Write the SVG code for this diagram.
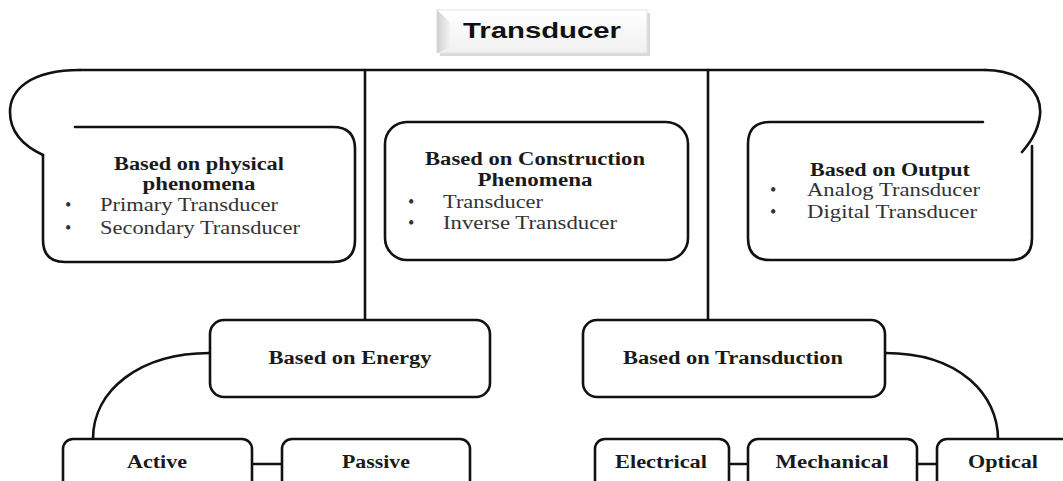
<svg xmlns="http://www.w3.org/2000/svg" width="1063" height="481" viewBox="0 0 1063 481">
<defs>
<linearGradient id="tg" x1="0" y1="0" x2="0" y2="1">
<stop offset="0" stop-color="#ffffff"/>
<stop offset="1" stop-color="#f0f0f0"/>
</linearGradient>
<linearGradient id="bev" x1="0" y1="0" x2="1" y2="0">
<stop offset="0" stop-color="#cfcfcf"/>
<stop offset="1" stop-color="#f4f4f4"/>
</linearGradient>
</defs>
<style>
.ln{fill:none;stroke:#111;stroke-width:2.6;stroke-linecap:round;stroke-linejoin:round}
.bx{fill:#fff;stroke:#111;stroke-width:2.6}
.hd{font-family:"Liberation Serif","Times New Roman",serif;font-weight:bold;font-size:18px;fill:#1a1a1a}
.it{font-family:"Liberation Serif","Times New Roman",serif;font-size:18px;fill:#333}
.ttl{font-family:"Liberation Sans",Arial,sans-serif;font-weight:bold;font-size:22px;fill:#111}
</style>
<rect width="1063" height="481" fill="#fff"/>

<g id="title">
<rect x="440" y="13" width="210" height="43" fill="#d8d8d8"/>
<rect x="437" y="10" width="210" height="43" fill="url(#tg)" stroke="#e2e2e2" stroke-width="1"/>
<polygon points="437,10 450,22 450,48 437,53" fill="url(#bev)"/>
<text class="ttl" x="542" y="38" text-anchor="middle" textLength="158" lengthAdjust="spacingAndGlyphs">Transducer</text>
</g>

<g id="connectors">
<path class="ln" d="M80 70 L985 70"/>
<path class="ln" d="M80 70 C30 70 10 90 10 112 C10 135 28 148 43 155"/>
<path class="ln" d="M985 70 C1025 70 1042 95 1040 115 C1038 133 1028 145 1022 152"/>
<path class="ln" d="M365 70 L365 320"/>
<path class="ln" d="M708 70 L708 320"/>
<path class="ln" d="M210 353 C140 353 93 390 93 439"/>
<path class="ln" d="M885 353 C960 353 998 395 998 439"/>
<path class="ln" d="M252 464 L282 464"/>
<path class="ln" d="M729 464 L748 464"/>
<path class="ln" d="M917 464 L937 464"/>
</g>

<g id="physical">
<path class="ln" d="M75 127 L333 127 Q355 127 355 149 L355 240 Q355 262 333 262 L65 262 Q43 262 43 240 L43 155"/>
<text class="hd" x="199" y="170" text-anchor="middle" textLength="170" lengthAdjust="spacingAndGlyphs">Based on physical</text>
<text class="hd" x="199" y="190" text-anchor="middle" textLength="113" lengthAdjust="spacingAndGlyphs">phenomena</text>
<text class="it" x="65" y="211">•</text>
<text class="it" x="100" y="211" textLength="178" lengthAdjust="spacingAndGlyphs">Primary Transducer</text>
<text class="it" x="65" y="234">•</text>
<text class="it" x="100" y="234" textLength="200" lengthAdjust="spacingAndGlyphs">Secondary Transducer</text>
</g>

<g id="construction">
<rect class="bx" x="385" y="122" width="303" height="138" rx="22"/>
<text class="hd" x="535" y="165" text-anchor="middle" textLength="220" lengthAdjust="spacingAndGlyphs">Based on Construction</text>
<text class="hd" x="535" y="186" text-anchor="middle" textLength="115" lengthAdjust="spacingAndGlyphs">Phenomena</text>
<text class="it" x="408" y="208">•</text>
<text class="it" x="443" y="208" textLength="100" lengthAdjust="spacingAndGlyphs">Transducer</text>
<text class="it" x="408" y="229">•</text>
<text class="it" x="443" y="229" textLength="174" lengthAdjust="spacingAndGlyphs">Inverse Transducer</text>
</g>

<g id="output">
<path class="ln" d="M983 122 L770 122 Q748 122 748 144 L748 238 Q748 260 770 260 L1010 260 Q1032 260 1032 238 L1032 146"/>
<text class="hd" x="890" y="176" text-anchor="middle" textLength="160" lengthAdjust="spacingAndGlyphs">Based on Output</text>
<text class="it" x="770" y="196">•</text>
<text class="it" x="807" y="196" textLength="173" lengthAdjust="spacingAndGlyphs">Analog Transducer</text>
<text class="it" x="770" y="218">•</text>
<text class="it" x="807" y="218" textLength="170" lengthAdjust="spacingAndGlyphs">Digital Transducer</text>
</g>

<g id="energy">
<rect class="bx" x="210" y="320" width="280" height="77" rx="14"/>
<text class="hd" x="350" y="364" text-anchor="middle" textLength="163" lengthAdjust="spacingAndGlyphs">Based on Energy</text>
</g>

<g id="transduction">
<rect class="bx" x="583" y="320" width="302" height="77" rx="14"/>
<text class="hd" x="733" y="364" text-anchor="middle" textLength="220" lengthAdjust="spacingAndGlyphs">Based on Transduction</text>
</g>

<g id="active">
<rect class="bx" x="63" y="439" width="189" height="60" rx="10"/>
<text class="hd" x="157" y="468" text-anchor="middle" textLength="60" lengthAdjust="spacingAndGlyphs">Active</text>
</g>
<g id="passive">
<rect class="bx" x="282" y="439" width="188" height="60" rx="10"/>
<text class="hd" x="376" y="468" text-anchor="middle" textLength="68" lengthAdjust="spacingAndGlyphs">Passive</text>
</g>
<g id="electrical">
<rect class="bx" x="595" y="439" width="134" height="60" rx="10"/>
<text class="hd" x="661" y="468" text-anchor="middle" textLength="92" lengthAdjust="spacingAndGlyphs">Electrical</text>
</g>
<g id="mechanical">
<rect class="bx" x="748" y="439" width="169" height="60" rx="10"/>
<text class="hd" x="832" y="468" text-anchor="middle" textLength="113" lengthAdjust="spacingAndGlyphs">Mechanical</text>
</g>
<g id="optical">
<rect class="bx" x="937" y="439" width="140" height="60" rx="10"/>
<text class="hd" x="1003" y="468" text-anchor="middle" textLength="70" lengthAdjust="spacingAndGlyphs">Optical</text>
</g>
</svg>
